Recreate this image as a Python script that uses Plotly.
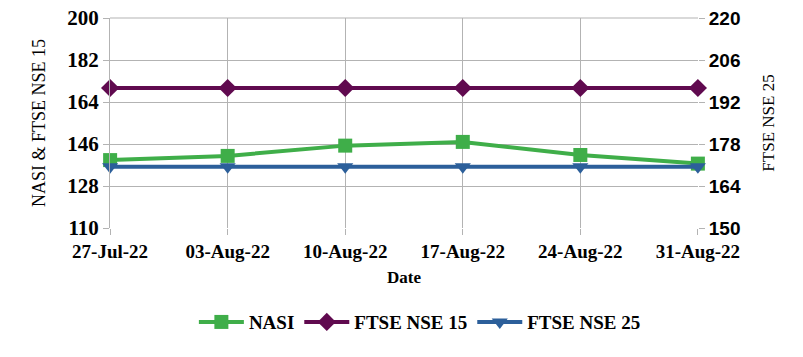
import plotly.graph_objects as go

dates = ["27-Jul-22", "03-Aug-22", "10-Aug-22", "17-Aug-22", "24-Aug-22", "31-Aug-22"]
nasi = [139.1, 140.9, 145.3, 146.9, 141.3, 137.6]
ftse15 = [170.0, 170.0, 170.0, 170.0, 170.0, 170.0]
ftse25 = [170.4, 170.4, 170.4, 170.4, 170.4, 170.4]

left_ticks = [110, 128, 146, 164, 182, 200]
right_ticks = [150, 164, 178, 192, 206, 220]

GREEN = "#3FAE49"
PURPLE = "#600A4F"
BLUE = "#2C5F9A"
GRID = "#B3B3B3"
SERIF = "Liberation Serif"

fig = go.Figure()
fig.add_trace(go.Scatter(x=dates, y=nasi, name="NASI", mode="lines+markers",
                         line=dict(color=GREEN, width=4),
                         marker=dict(symbol="square", size=14, color=GREEN),
                         cliponaxis=False))
fig.add_trace(go.Scatter(x=dates, y=ftse15, name="FTSE NSE 15", mode="lines+markers",
                         line=dict(color=PURPLE, width=4),
                         marker=dict(symbol="diamond", size=14, color=PURPLE),
                         cliponaxis=False))
fig.add_trace(go.Scatter(x=dates, y=ftse25, name="FTSE NSE 25", mode="lines+markers",
                         line=dict(color=BLUE, width=4),
                         marker=dict(symbol="triangle-down", size=14, color=BLUE),
                         yaxis="y2", cliponaxis=False))

fig.update_layout(
    width=803, height=357,
    margin=dict(l=110, r=105, t=18, b=129),
    plot_bgcolor="white", paper_bgcolor="white",
    showlegend=True,
    legend=dict(orientation="h", x=0.527, xanchor="center", y=-0.448, yanchor="middle",
                font=dict(family=SERIF, size=19, color="black", weight="bold"),
                itemwidth=45),
    xaxis=dict(type="category", range=[-0.001, 5.001], showgrid=True, gridcolor=GRID,
               ticks="outside", ticklen=6, tickcolor=GRID, automargin=False,
               tickfont=dict(family=SERIF, size=19, color="black", weight="bold"),
               title=dict(text="Date", font=dict(family=SERIF, size=17, color="black", weight="bold"),
                          standoff=10),
               zeroline=False, showline=False),
    yaxis=dict(range=[110, 200], tickmode="array", tickvals=left_ticks,
               ticktext=[str(v) for v in left_ticks], ticklabeloverflow="allow",
               showgrid=True, gridcolor=GRID,
               ticks="outside", ticklen=6, tickcolor=GRID, automargin=False,
               tickfont=dict(family=SERIF, size=21, color="black", weight="bold"),
               title=dict(text="NASI &amp; FTSE NSE 15", font=dict(family=SERIF, size=18, color="black"),
                          standoff=16),
               zeroline=False, showline=True, linecolor=GRID, mirror=False),
    yaxis2=dict(range=[150, 220], tickmode="array", tickvals=right_ticks,
                ticktext=[str(v) for v in right_ticks], ticklabeloverflow="allow",
                overlaying="y", side="right",
                showgrid=False, ticks="outside", ticklen=6, tickcolor=GRID, automargin=False,
                tickfont=dict(family="Liberation Sans", size=19, color="black", weight="bold"),
                title=dict(text="FTSE NSE 25", font=dict(family=SERIF, size=17, color="black"),
                           standoff=22),
                zeroline=False, showline=False),
)
fig.add_shape(type="line", xref="paper", yref="paper", x0=0, x1=1, y0=1, y1=1,
              line=dict(color=GRID, width=1), layer="below")

fig.write_html("out.html", config={"displayModeBar": False},
               post_script="document.body.style.margin='0';")
